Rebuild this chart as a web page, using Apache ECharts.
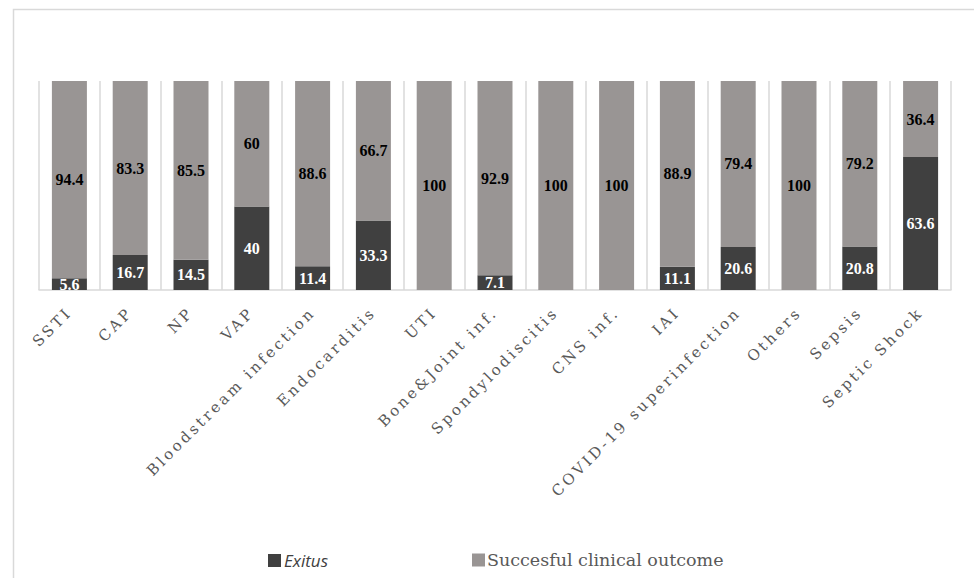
<!DOCTYPE html>
<html>
<head>
<meta charset="utf-8">
<script src="https://cdn.jsdelivr.net/npm/echarts@6/dist/echarts.min.js"></script>
<style>
  html, body { margin: 0; padding: 0; background: #ffffff; }
  #chart { width: 974px; height: 578px; }
</style>
</head>
<body>
<div id="chart"></div>
<script>
// Infection types (x axis)
const categories = [
  'SSTI', 'CAP', 'NP', 'VAP', 'Bloodstream infection', 'Endocarditis', 'UTI',
  'Bone&Joint inf.', 'Spondylodiscitis', 'CNS inf.', 'IAI',
  'COVID-19 superinfection', 'Others', 'Sepsis', 'Septic Shock'
];
// Outcome percentages per infection type
const exitus = [5.6, 16.7, 14.5, 40, 11.4, 33.3, 0, 7.1, 0, 0, 11.1, 20.6, 0, 20.8, 63.6];
const success = [94.4, 83.3, 85.5, 60, 88.6, 66.7, 100, 92.9, 100, 100, 88.9, 79.4, 100, 79.2, 36.4];

const seriesNames = ['Exitus', 'Succesful clinical outcome'];
const DARK = '#404040';
const GREY = '#999594';
const CATEGORY_LETTER_SPACING = '3px';

const chart = echarts.init(document.getElementById('chart'), null, { renderer: 'svg' });

const valueLabel = (color) => ({
  show: true,
  position: 'inside',
  color: color,
  fontFamily: 'Liberation Serif',
  fontWeight: 'bold',
  fontSize: 16,
  formatter: (p) => (p.value ? String(p.value) : '')
});

chart.setOption({
  backgroundColor: '#ffffff',
  animation: false,
  graphic: [{
    type: 'rect',
    left: 11,
    top: 7,
    shape: { width: 1000, height: 620 },
    style: { fill: 'none', stroke: '#d9d9d9', lineWidth: 1.5 },
    silent: true,
    z: -1
  }],
  grid: { left: 39, right: 23, top: 81, bottom: 288, containLabel: false },
  legend: [
    {
      data: [seriesNames[0]],
      left: 263, top: 547,
      itemWidth: 13, itemHeight: 13, itemGap: 6, icon: 'rect',
      textStyle: { fontFamily: 'Open Sans', fontStyle: 'italic', fontSize: 17, color: '#404040', padding: [0, 0, 0, -2] }
    },
    {
      data: [seriesNames[1]],
      left: 467, top: 546,
      itemWidth: 13, itemHeight: 13, icon: 'rect',
      textStyle: { fontFamily: 'DejaVu Serif', fontSize: 17.5, color: '#595959', padding: [0, 0, 0, -3] }
    }
  ],
  xAxis: {
    type: 'category',
    data: categories,
    boundaryGap: true,
    axisLine: { show: true, lineStyle: { color: '#d9d9d9', width: 1.5 } },
    axisTick: { show: false },
    splitLine: { show: true, lineStyle: { color: '#d9d9d9', width: 1.5 } },
    axisLabel: {
      rotate: 45,
      interval: 0,
      margin: 20,
      color: '#595959',
      fontFamily: 'DejaVu Serif',
      fontSize: 15
    }
  },
  yAxis: {
    type: 'value',
    min: 0,
    max: 100,
    show: false,
    splitLine: { show: false }
  },
  series: [
    {
      name: seriesNames[0],
      type: 'bar',
      stack: 'total',
      barWidth: 35,
      data: exitus,
      itemStyle: { color: DARK },
      label: valueLabel('#ffffff')
    },
    {
      name: seriesNames[1],
      type: 'bar',
      stack: 'total',
      barWidth: 35,
      data: success,
      itemStyle: { color: GREY },
      label: valueLabel('#000000')
    }
  ]
});

// Spread out the letters of the category names under the axis
function spaceCategoryLabels() {
  const names = new Set(categories);
  document.querySelectorAll('#chart svg text').forEach((t) => {
    if (names.has(t.textContent)) t.style.letterSpacing = CATEGORY_LETTER_SPACING;
  });
}
spaceCategoryLabels();
chart.on('finished', spaceCategoryLabels);
</script>
</body>
</html>
